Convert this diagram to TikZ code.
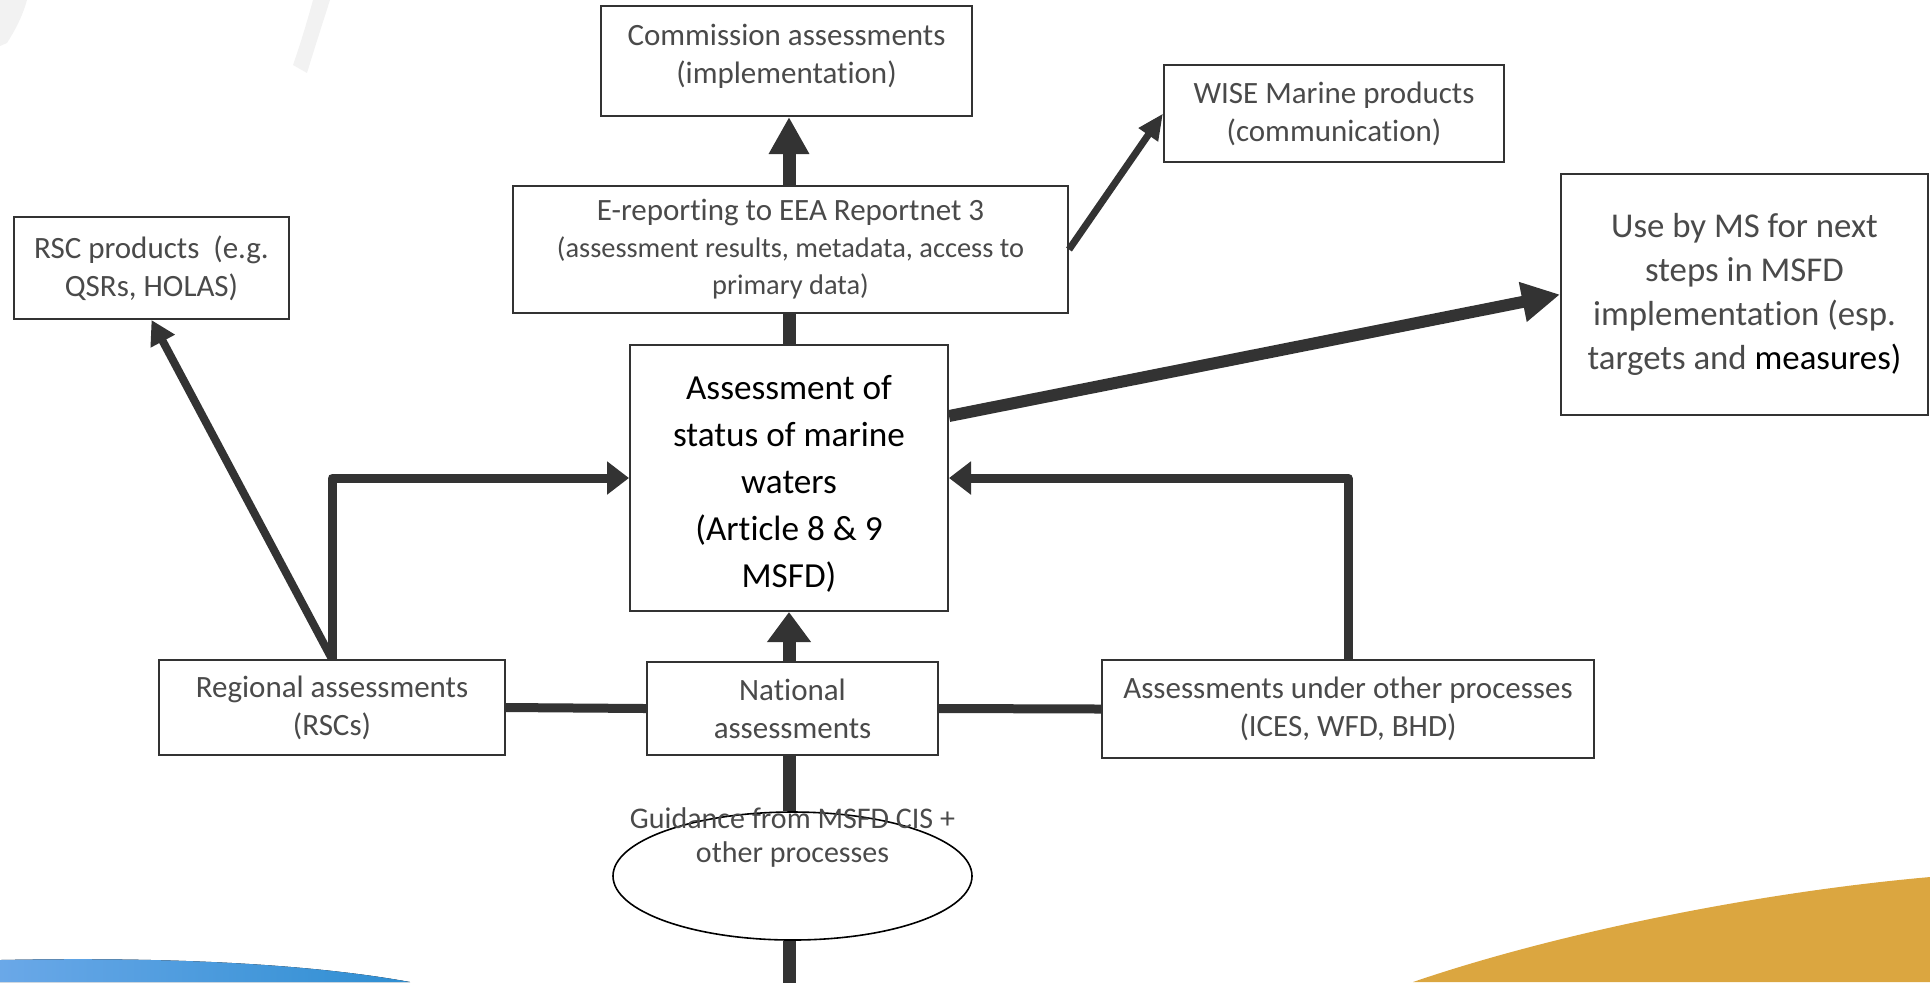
\documentclass[tikz,border=0pt]{standalone}
\usepackage{fontspec}
\setmainfont{Carlito}[Ligatures={NoCommon,NoContextual}, Contextuals={NoAlternate}]
\usetikzlibrary{arrows.meta,shapes.geometric,calc}
\definecolor{lc}{HTML}{333333}
\definecolor{tc}{HTML}{4A4A4A}
\definecolor{bgray}{HTML}{F2F2F2}
\definecolor{orng}{HTML}{DBA640}
\definecolor{blueL}{HTML}{6AA8E8}
\definecolor{blueR}{HTML}{2E8ED2}
\newcommand\shiftedlines[2]{\raisebox{#1}[\height][\depth]{\begin{tabular}{@{}c@{}}#2\end{tabular}}}
\tikzset{
  box/.style={draw=lc, line width=1pt, fill=white, align=center, inner sep=0pt, text=tc,
    font=\fontsize{15.5}{19}\selectfont},
  conn/.style={draw=lc, line width=4.5pt},
  trunk/.style={draw=lc, line width=6.5pt},
}
\begin{document}
\begin{tikzpicture}[x=0.5pt,y=-0.5pt]
\useasboundingbox (0,0) rectangle (1930,982);
% background decorations
\fill[bgray] (0,0) -- (27,0) .. controls (22,18) and (14,32) .. (7,43) -- (0,46) -- cycle;
\fill[bgray] (313,0) -- (330,0) .. controls (322,25) and (314,50) .. (307,73) -- (293,65) .. controls (300,45) and (307,22) .. cycle;
\fill[left color=blueL, right color=blueR] (0,960) .. controls (150,957) and (300,962) .. (410,982) -- (0,982) -- cycle;
\fill[orng] (1413,982) .. controls (1550,935) and (1750,893) .. (1930,877) -- (1930,982) -- cycle;

% nodes
\node[box, minimum width=185.5pt, minimum height=55pt] (comm) at (786.5,61)
  {\shiftedlines{2pt}{Commission assessments\\(implementation)}};
\node[box, minimum width=170pt, minimum height=48.5pt] (wise) at (1334,113.5) {WISE Marine products\\(communication)};
\node[box, minimum width=137.5pt, minimum height=51pt] (rsc) at (151.5,268) {RSC products\ \ (e.g.\\QSRs, HOLAS)};
\node[box, minimum width=277.5pt, minimum height=63.5pt, font=\fontsize{14.2}{18.5}\selectfont] (erep) at (790.5,249.5)
  {{\fontsize{15.5}{18.5}\selectfont E-reporting to EEA Reportnet 3}\\(assessment results, metadata, access to\\primary data)};
\node[box, minimum width=183.5pt, minimum height=120.5pt, font=\fontsize{17.4}{22}\selectfont] (use) at (1744.5,294.5)
  {Use by MS for next\\steps in MSFD\\implementation (esp.\\targets and \textcolor{black}{measures)}};
\node[box, minimum width=159pt, minimum height=133pt, font=\fontsize{17.6}{23.5}\selectfont, text=black] (central) at (789,478)
  {\shiftedlines{-3pt}{Assessment of\\status of marine\\waters\\(Article 8 \& 9\\MSFD)}};
\node[box, minimum width=173pt, minimum height=47.5pt] (reg) at (332,707.5) {Regional assessments\\(RSCs)};
\node[box, minimum width=145.5pt, minimum height=46.5pt] (nat) at (792.5,708.5) {National\\assessments};
\node[box, minimum width=246pt, minimum height=49pt] (oth) at (1348,709) {Assessments under other processes\\(ICES, WFD, BHD)};
\node[draw=black, line width=0.8pt, ellipse, minimum width=179.5pt, minimum height=64pt, inner sep=0pt] (guide) at (792.5,876) {};
\node[align=center, text=tc, font=\fontsize{15}{17}\selectfont, inner sep=0pt] (guidetext) at (792.5,837) {Guidance from MSFD CIS +\\other processes};
\coordinate (bottomend) at (789,990);

% connectors
\draw[trunk] (central.north) -- (central.north |- erep.south);
\draw[trunk, -{Triangle[length=18.5pt,width=19pt]}] (central.north |- erep.north) -- (central.north |- comm.south);
\draw[draw=lc, line width=3.5pt, -{Triangle[length=13pt,width=11pt]}] (erep.east) -- (wise.west);
\draw[draw=lc, line width=6pt, -{Triangle[length=19pt,width=19pt]}] ([yshift=31pt]central.east) -- (use.west);
\draw[conn, line join=round, -{Triangle[length=11pt,width=16pt]}] (reg.north) |- (central.west);
\draw[conn, line join=round, -{Triangle[length=11pt,width=16pt]}] (oth.north) |- (central.east);
\draw[draw=lc, line width=4pt, -{Triangle[length=12pt,width=13pt]}] (reg.north) -- (rsc.south);
\draw[trunk, -{Triangle[length=15pt,width=21pt]}] (central.south |- nat.north) -- (central.south);
\draw[conn] (reg.east) -- (nat.west);
\draw[conn] (nat.east) -- (oth.west);
\draw[trunk] (central.south |- nat.south) -- (central.south |- guide.north);
\draw[trunk] (central.south |- guide.south) -- (bottomend);
\end{tikzpicture}
\end{document}
